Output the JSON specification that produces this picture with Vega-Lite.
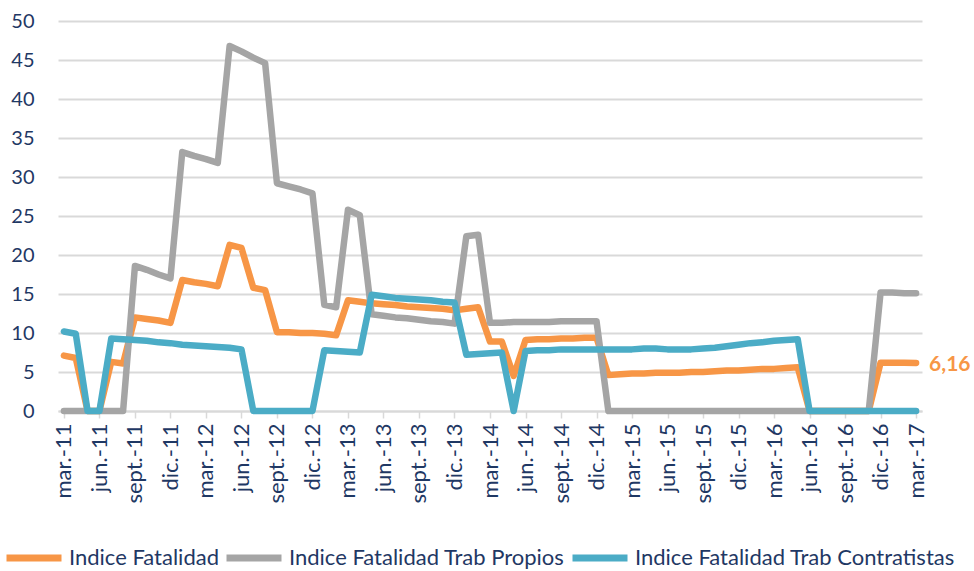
{
  "$schema": "https://vega.github.io/schema/vega-lite/v6.json",
  "width": 864,
  "height": 390,
  "autosize": {"type": "none"},
  "padding": {"left": 58, "top": 21, "right": 52, "bottom": 160},
  "background": "white",
  "config": {
    "view": {"stroke": null},
    "locale": {"number": {"decimal": ",", "thousands": ".", "grouping": [3], "currency": ["", " €"]}},
    "font": "Lato"
  },
  "data": {
    "values": [
      {"mes": "mar.-11", "fatalidad": 7.1, "propios": 0, "contratistas": 10.2},
      {"mes": "abr.-11", "fatalidad": 6.8, "propios": 0, "contratistas": 9.9},
      {"mes": "may.-11", "fatalidad": 0, "propios": 0, "contratistas": 0},
      {"mes": "jun.-11", "fatalidad": 0, "propios": 0, "contratistas": 0},
      {"mes": "jul.-11", "fatalidad": 6.3, "propios": 0, "contratistas": 9.3},
      {"mes": "ago.-11", "fatalidad": 6.1, "propios": 0, "contratistas": 9.2},
      {"mes": "sept.-11", "fatalidad": 12.0, "propios": 18.6, "contratistas": 9.1},
      {"mes": "oct.-11", "fatalidad": 11.8, "propios": 18.1, "contratistas": 9.0},
      {"mes": "nov.-11", "fatalidad": 11.6, "propios": 17.5, "contratistas": 8.8},
      {"mes": "dic.-11", "fatalidad": 11.3, "propios": 17.0, "contratistas": 8.7},
      {"mes": "ene.-12", "fatalidad": 16.8, "propios": 33.2, "contratistas": 8.5},
      {"mes": "feb.-12", "fatalidad": 16.5, "propios": 32.7, "contratistas": 8.4},
      {"mes": "mar.-12", "fatalidad": 16.3, "propios": 32.3, "contratistas": 8.3},
      {"mes": "abr.-12", "fatalidad": 16.0, "propios": 31.8, "contratistas": 8.2},
      {"mes": "may.-12", "fatalidad": 21.3, "propios": 46.8, "contratistas": 8.1},
      {"mes": "jun.-12", "fatalidad": 20.9, "propios": 46.1, "contratistas": 7.9},
      {"mes": "jul.-12", "fatalidad": 15.8, "propios": 45.3, "contratistas": 0},
      {"mes": "ago.-12", "fatalidad": 15.5, "propios": 44.6, "contratistas": 0},
      {"mes": "sept.-12", "fatalidad": 10.1, "propios": 29.2, "contratistas": 0},
      {"mes": "oct.-12", "fatalidad": 10.1, "propios": 28.8, "contratistas": 0},
      {"mes": "nov.-12", "fatalidad": 10.0, "propios": 28.4, "contratistas": 0},
      {"mes": "dic.-12", "fatalidad": 10.0, "propios": 27.9, "contratistas": 0},
      {"mes": "ene.-13", "fatalidad": 9.9, "propios": 13.6, "contratistas": 7.8},
      {"mes": "feb.-13", "fatalidad": 9.7, "propios": 13.3, "contratistas": 7.7},
      {"mes": "mar.-13", "fatalidad": 14.2, "propios": 25.8, "contratistas": 7.6},
      {"mes": "abr.-13", "fatalidad": 14.0, "propios": 25.1, "contratistas": 7.5},
      {"mes": "may.-13", "fatalidad": 13.8, "propios": 12.4, "contratistas": 14.9},
      {"mes": "jun.-13", "fatalidad": 13.7, "propios": 12.2, "contratistas": 14.7},
      {"mes": "jul.-13", "fatalidad": 13.6, "propios": 12.0, "contratistas": 14.5},
      {"mes": "ago.-13", "fatalidad": 13.4, "propios": 11.9, "contratistas": 14.4},
      {"mes": "sept.-13", "fatalidad": 13.3, "propios": 11.7, "contratistas": 14.3},
      {"mes": "oct.-13", "fatalidad": 13.2, "propios": 11.5, "contratistas": 14.2},
      {"mes": "nov.-13", "fatalidad": 13.1, "propios": 11.4, "contratistas": 14.0},
      {"mes": "dic.-13", "fatalidad": 12.9, "propios": 11.2, "contratistas": 13.9},
      {"mes": "ene.-14", "fatalidad": 13.1, "propios": 22.4, "contratistas": 7.2},
      {"mes": "feb.-14", "fatalidad": 13.3, "propios": 22.6, "contratistas": 7.3},
      {"mes": "mar.-14", "fatalidad": 8.9, "propios": 11.3, "contratistas": 7.4},
      {"mes": "abr.-14", "fatalidad": 8.9, "propios": 11.3, "contratistas": 7.5},
      {"mes": "may.-14", "fatalidad": 4.5, "propios": 11.4, "contratistas": 0},
      {"mes": "jun.-14", "fatalidad": 9.1, "propios": 11.4, "contratistas": 7.7},
      {"mes": "jul.-14", "fatalidad": 9.2, "propios": 11.4, "contratistas": 7.8},
      {"mes": "ago.-14", "fatalidad": 9.2, "propios": 11.4, "contratistas": 7.8},
      {"mes": "sept.-14", "fatalidad": 9.3, "propios": 11.5, "contratistas": 7.9},
      {"mes": "oct.-14", "fatalidad": 9.3, "propios": 11.5, "contratistas": 7.9},
      {"mes": "nov.-14", "fatalidad": 9.4, "propios": 11.5, "contratistas": 7.9},
      {"mes": "dic.-14", "fatalidad": 9.4, "propios": 11.5, "contratistas": 7.9},
      {"mes": "ene.-15", "fatalidad": 4.6, "propios": 0, "contratistas": 7.9},
      {"mes": "feb.-15", "fatalidad": 4.7, "propios": 0, "contratistas": 7.9},
      {"mes": "mar.-15", "fatalidad": 4.8, "propios": 0, "contratistas": 7.9},
      {"mes": "abr.-15", "fatalidad": 4.8, "propios": 0, "contratistas": 8.0},
      {"mes": "may.-15", "fatalidad": 4.9, "propios": 0, "contratistas": 8.0},
      {"mes": "jun.-15", "fatalidad": 4.9, "propios": 0, "contratistas": 7.9},
      {"mes": "jul.-15", "fatalidad": 4.9, "propios": 0, "contratistas": 7.9},
      {"mes": "ago.-15", "fatalidad": 5.0, "propios": 0, "contratistas": 7.9},
      {"mes": "sept.-15", "fatalidad": 5.0, "propios": 0, "contratistas": 8.0},
      {"mes": "oct.-15", "fatalidad": 5.1, "propios": 0, "contratistas": 8.1},
      {"mes": "nov.-15", "fatalidad": 5.2, "propios": 0, "contratistas": 8.3},
      {"mes": "dic.-15", "fatalidad": 5.2, "propios": 0, "contratistas": 8.5},
      {"mes": "ene.-16", "fatalidad": 5.3, "propios": 0, "contratistas": 8.7},
      {"mes": "feb.-16", "fatalidad": 5.4, "propios": 0, "contratistas": 8.8},
      {"mes": "mar.-16", "fatalidad": 5.4, "propios": 0, "contratistas": 9.0},
      {"mes": "abr.-16", "fatalidad": 5.5, "propios": 0, "contratistas": 9.1},
      {"mes": "may.-16", "fatalidad": 5.6, "propios": 0, "contratistas": 9.2},
      {"mes": "jun.-16", "fatalidad": 0, "propios": 0, "contratistas": 0},
      {"mes": "jul.-16", "fatalidad": 0, "propios": 0, "contratistas": 0},
      {"mes": "ago.-16", "fatalidad": 0, "propios": 0, "contratistas": 0},
      {"mes": "sept.-16", "fatalidad": 0, "propios": 0, "contratistas": 0},
      {"mes": "oct.-16", "fatalidad": 0, "propios": 0, "contratistas": 0},
      {"mes": "nov.-16", "fatalidad": 0, "propios": 0, "contratistas": 0},
      {"mes": "dic.-16", "fatalidad": 6.2, "propios": 15.2, "contratistas": 0},
      {"mes": "ene.-17", "fatalidad": 6.2, "propios": 15.2, "contratistas": 0},
      {"mes": "feb.-17", "fatalidad": 6.2, "propios": 15.1, "contratistas": 0},
      {"mes": "mar.-17", "fatalidad": 6.16, "propios": 15.1, "contratistas": 0}
    ]
  },
  "transform": [
    {"fold": ["fatalidad", "propios", "contratistas"], "as": ["serie", "valor"]}
  ],
  "encoding": {
    "x": {
      "field": "mes",
      "type": "ordinal",
      "sort": null,
      "scale": {"type": "point", "padding": 0.5},
      "axis": {
        "title": null,
        "values": ["mar.-11", "jun.-11", "sept.-11", "dic.-11", "mar.-12", "jun.-12", "sept.-12", "dic.-12", "mar.-13", "jun.-13", "sept.-13", "dic.-13", "mar.-14", "jun.-14", "sept.-14", "dic.-14", "mar.-15", "jun.-15", "sept.-15", "dic.-15", "mar.-16", "jun.-16", "sept.-16", "dic.-16", "mar.-17"],
        "labelAngle": -90,
        "labelFontSize": 22,
        "labelColor": "#1F3864",
        "labelPadding": 5,
        "grid": false,
        "domainColor": "#D9D9D9",
        "domainWidth": 2,
        "tickColor": "#D9D9D9",
        "tickWidth": 1.5,
        "tickSize": 7
      }
    },
    "y": {
      "field": "valor",
      "type": "quantitative",
      "scale": {"domain": [0, 50], "nice": false},
      "axis": {
        "title": null,
        "values": [0, 5, 10, 15, 20, 25, 30, 35, 40, 45, 50],
        "labelFontSize": 20,
        "labelColor": "#1F3864",
        "labelPadding": 24,
        "domain": false,
        "ticks": false,
        "tickSize": 0,
        "grid": true,
        "gridColor": "#D9D9D9",
        "gridWidth": 2
      }
    }
  },
  "layer": [
    {
      "mark": {"type": "line", "strokeWidth": 6.5, "strokeJoin": "round", "strokeCap": "round"},
      "encoding": {
        "color": {
          "field": "serie",
          "type": "nominal",
          "scale": {"domain": ["fatalidad", "propios", "contratistas"], "range": ["#F79646", "#A5A5A5", "#4BACC6"]},
          "legend": {
            "title": null,
            "orient": "none",
            "legendX": -55,
            "legendY": 506,
            "direction": "horizontal",
            "symbolType": "stroke",
            "symbolSize": 3025,
            "symbolStrokeWidth": 7,
            "labelFontSize": 22,
            "labelColor": "#1F3864",
            "labelLimit": 500,
            "labelOffset": 4,
            "columnPadding": -7,
            "labelExpr": "datum.value == 'fatalidad' ? 'Indice Fatalidad' : datum.value == 'propios' ? 'Indice Fatalidad Trab Propios' : 'Indice Fatalidad Trab Contratistas'"
          }
        }
      }
    },
    {
      "transform": [{"filter": "datum.serie == 'fatalidad' && datum.mes == 'mar.-17'"}],
      "mark": {"type": "text", "align": "left", "baseline": "middle", "dx": 13, "dy": 2, "fontSize": 21, "fontWeight": "bold", "color": "#F79646"},
      "encoding": {
        "text": {"field": "valor", "type": "quantitative", "format": ".2f"}
      }
    }
  ]
}
